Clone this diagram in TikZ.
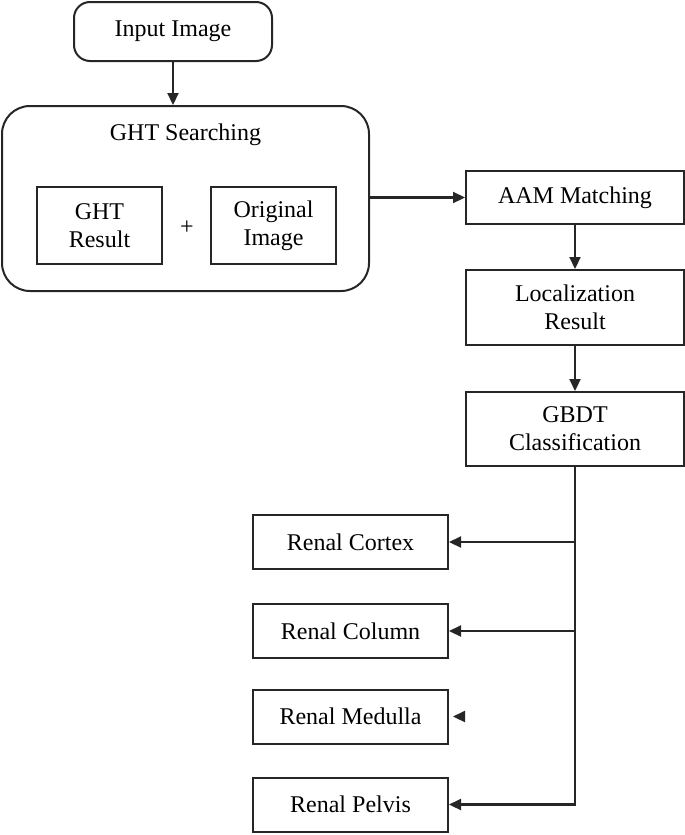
\documentclass[tikz,border=0pt]{standalone}
\usepackage{fontspec}
\setmainfont{Liberation Serif}
\usetikzlibrary{arrows.meta}

\begin{document}
\begin{tikzpicture}[x=0.5pt,y=-0.5pt, line width=1pt,
    box/.style={draw=black!85, rectangle, align=center, inner sep=0pt, font=\fontsize{12}{14}\selectfont},
    arr/.style={draw=black!85, line width=1.1pt, -{Triangle[length=6pt,width=5.5pt]}}]
                \useasboundingbox (0,0) rectangle (685,835);

                \node[box, rounded corners=8pt, minimum width=99pt, minimum height=29.5pt] (input) at (173,31.5) {Input Image};
                \node[box, rounded corners=14pt, minimum width=183.5pt, minimum height=92.5pt] (ght) at (185.5,198.5) {};
                \node[font=\fontsize{12}{14}\selectfont] (ghttitle) at (185.5,135) {GHT Searching};
                \node[box, minimum width=62.5pt, minimum height=38.5pt] (ghtres) at (99.5,225.5) {GHT\\Result};
                \node[font=\fontsize{12}{14}\selectfont] (plus) at (187,228) {+};
                \node[box, minimum width=62.5pt, minimum height=38.5pt] (orig) at (273.5,225.5) {Original\\Image};

                \node[box, minimum width=109pt, minimum height=26.5pt] (aam) at (575,197.5) {AAM Matching};
                \node[box, minimum width=109pt, minimum height=37.5pt] (loc) at (575,307.5) {Localization\\Result};
                \node[box, minimum width=109pt, minimum height=37pt] (gbdt) at (575,429) {GBDT\\Classification};

                \node[box, minimum width=97.5pt, minimum height=27pt] (cortex) at (350.5,542) {Renal Cortex};
                \node[box, minimum width=97.5pt, minimum height=27pt] (column) at (350.5,631) {Renal Column};
                \node[box, minimum width=97.5pt, minimum height=27pt] (medulla) at (350.5,716.5) {Renal Medulla};
                \node[box, minimum width=97.5pt, minimum height=27pt] (pelvis) at (350.5,804.5) {Renal Pelvis};

                \draw[arr] (input.south) -- (input.south |- ght.north);
                \draw[arr] (ght.east |- aam) -- (aam);
                \draw[arr] (aam) -- (loc);
                \draw[arr] (loc) -- (gbdt);

                \draw[arr] (gbdt.south) |- (pelvis);
                \draw[arr] (gbdt.south |- cortex) -- (cortex);
                \draw[arr] (gbdt.south |- column) -- (column);
                \draw[arr] ([xshift=8pt]medulla.east) -- ([xshift=2pt]medulla.east);
            \end{tikzpicture}
\end{document}
